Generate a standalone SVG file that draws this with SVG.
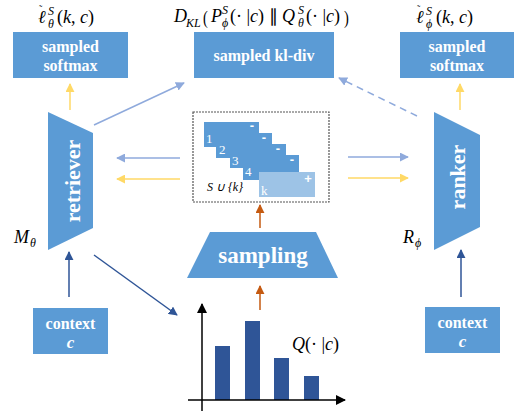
<svg xmlns="http://www.w3.org/2000/svg" width="518" height="415" viewBox="0 0 518 415">
<defs>
<style>
.box{fill:#5B9BD5}
.bt{font-weight:bold;fill:#fff;text-anchor:middle}
.m{font-size:18px;fill:#000}
.i{font-style:italic}
.s{font-size:12px;font-style:italic;fill:#000}
.num{font-size:13px;fill:#fff}
.pm{font-size:13px;font-weight:bold;fill:#fff;text-anchor:middle}
.lb{stroke:#8FAADC;stroke-width:1.5;fill:none}
.yl{stroke:#FFD966;stroke-width:1.5;fill:none}
.db{stroke:#2F5597;stroke-width:1.5;fill:none}
.or{stroke:#C55A11;stroke-width:1.5;fill:none}
</style>
<marker id="aLb" viewBox="0 0 10 10" refX="9" refY="5" markerWidth="9" markerHeight="9" markerUnits="userSpaceOnUse" orient="auto"><path d="M0,0L10,5L0,10z" fill="#8FAADC"/></marker>
<marker id="aYl" viewBox="0 0 10 10" refX="9" refY="5" markerWidth="9" markerHeight="9" markerUnits="userSpaceOnUse" orient="auto"><path d="M0,0L10,5L0,10z" fill="#FFD966"/></marker>
<marker id="aDb" viewBox="0 0 10 10" refX="9" refY="5" markerWidth="9" markerHeight="9" markerUnits="userSpaceOnUse" orient="auto"><path d="M0,0L10,5L0,10z" fill="#2F5597"/></marker>
<marker id="aOr" viewBox="0 0 10 10" refX="9" refY="5" markerWidth="9" markerHeight="9" markerUnits="userSpaceOnUse" orient="auto"><path d="M0,0L10,5L0,10z" fill="#C55A11"/></marker>
<marker id="aK" viewBox="0 0 10 10" refX="9" refY="5" markerWidth="10" markerHeight="10" markerUnits="userSpaceOnUse" orient="auto"><path d="M0,0L10,5L0,10z" fill="#000"/></marker>
</defs>
<rect width="518" height="415" fill="#fff"/>

<g id="connectors">
<line class="yl" x1="70" y1="110" x2="70" y2="84" marker-end="url(#aYl)"/>
<line class="yl" x1="460" y1="110" x2="460" y2="84" marker-end="url(#aYl)"/>
<line class="lb" x1="94" y1="125" x2="184" y2="83" marker-end="url(#aLb)"/>
<line class="lb" x1="417" y1="116" x2="339" y2="78" stroke-dasharray="7,5" marker-end="url(#aLb)"/>
<line class="lb" x1="180" y1="158" x2="117" y2="158" marker-end="url(#aLb)"/>
<line class="yl" x1="180" y1="179" x2="117" y2="179" marker-end="url(#aYl)"/>
<line class="lb" x1="348" y1="157" x2="408" y2="157" marker-end="url(#aLb)"/>
<line class="yl" x1="348" y1="178" x2="408" y2="178" marker-end="url(#aYl)"/>
<line class="db" x1="69" y1="297" x2="69" y2="252" marker-end="url(#aDb)"/>
<line class="db" x1="461" y1="297" x2="461" y2="250" marker-end="url(#aDb)"/>
<line class="db" x1="94" y1="255" x2="177" y2="315" marker-end="url(#aDb)"/>
<line class="or" x1="260" y1="228" x2="260" y2="205" marker-end="url(#aOr)"/>
<line class="or" x1="260" y1="310" x2="260" y2="286" marker-end="url(#aOr)"/>
</g>

<g font-family="Liberation Serif, Times New Roman, serif">
<g id="label-left">
<text class="m" x="38" y="23"><tspan class="i">ℓ</tspan><tspan x="39" y="13" font-size="10">˜</tspan><tspan x="48" y="15" font-size="12" font-style="italic">S</tspan><tspan x="48" y="28" font-size="12" font-style="italic">θ</tspan><tspan x="57" y="23">(<tspan class="i">k</tspan>, <tspan class="i">c</tspan>)</tspan></text>
</g>
<g id="label-center">
<text class="m i" x="174" y="22">D</text>
<text class="s" x="186" y="27">KL</text>
<text class="m" x="203" y="24" font-size="26" transform="translate(203 0) scale(0.8 1) translate(-203 0)">(</text>
<text class="m i" x="211" y="22">P</text>
<text class="s" x="222" y="14">S</text>
<text class="s" x="222" y="27">ϕ</text>
<text class="m" x="230" y="22">(· |<tspan class="i">c</tspan>) ∥ <tspan class="i">Q</tspan></text>
<text class="s" x="298" y="14">S</text>
<text class="s" x="298" y="27">θ</text>
<text class="m" x="306" y="22">(· |<tspan class="i">c</tspan>)</text>
<text class="m" x="344" y="24" font-size="26" transform="translate(344 0) scale(0.8 1) translate(-344 0)">)</text>
</g>
<g id="label-right">
<text class="m" x="416" y="23"><tspan class="i">ℓ</tspan><tspan x="417" y="13" font-size="10">˜</tspan><tspan x="426" y="15" font-size="12" font-style="italic">S</tspan><tspan x="426" y="28" font-size="12" font-style="italic">ϕ</tspan><tspan x="436" y="23">(<tspan class="i">k</tspan>, <tspan class="i">c</tspan>)</tspan></text>
</g>

<g id="softmax-left">
<rect class="box" x="13" y="32" width="115" height="46"/>
<text class="bt" x="70.5" y="52" font-size="16">sampled</text>
<text class="bt" x="70.5" y="71" font-size="16">softmax</text>
</g>
<g id="kl-div">
<rect class="box" x="194" y="32" width="140" height="46"/>
<text class="bt" x="264" y="61" font-size="16">sampled kl-div</text>
</g>
<g id="softmax-right">
<rect class="box" x="400" y="32" width="114" height="46"/>
<text class="bt" x="457" y="52" font-size="16">sampled</text>
<text class="bt" x="457" y="71" font-size="16">softmax</text>
</g>

<g id="retriever">
<polygon class="box" points="48,112 93,133 93,228 48,250"/>
<text class="bt" font-size="22" transform="translate(80 181) rotate(-90)" x="0" y="0">retriever</text>
<text class="m i" x="14" y="243">M</text>
<text class="s" x="30" y="247">θ</text>
</g>
<g id="ranker">
<polygon class="box" points="434,112 480,135 480,227 434,250"/>
<text class="bt" font-size="22" transform="translate(465 177) rotate(-90)" x="0" y="0">ranker</text>
<text class="m i" x="403" y="243">R</text>
<text class="s" x="415" y="247">ϕ</text>
</g>

<g id="samples">
<rect x="193" y="112" width="136" height="90" fill="#fff" stroke="#555" stroke-width="1.2" stroke-dasharray="2,1"/>
<rect class="box" x="204" y="122" width="55" height="25"/>
<rect class="box" x="216" y="133" width="56" height="25"/>
<rect class="box" x="230" y="144" width="56" height="24"/>
<rect class="box" x="243" y="155" width="56" height="25"/>
<rect x="259" y="172" width="56" height="25" fill="#9DC3E6"/>
<text class="num" x="206" y="143">1</text>
<text class="num" x="219" y="154">2</text>
<text class="num" x="232" y="165">3</text>
<text class="num" x="245" y="176">4</text>
<text class="num" x="261" y="195">k</text>
<text class="pm" x="252" y="130" font-family="Liberation Sans, Arial, sans-serif">-</text>
<text class="pm" x="264" y="142" font-family="Liberation Sans, Arial, sans-serif">-</text>
<text class="pm" x="278" y="153" font-family="Liberation Sans, Arial, sans-serif">-</text>
<text class="pm" x="292" y="164" font-family="Liberation Sans, Arial, sans-serif">-</text>
<text class="pm" x="308" y="183" font-family="Liberation Sans, Arial, sans-serif">+</text>
<text class="s" x="207" y="191" font-size="10">S ∪ {k}</text>
</g>

<g id="sampling">
<polygon class="box" points="210,232 316,232 338,278 187,278"/>
<text class="bt" x="263" y="263" font-size="23">sampling</text>
</g>

<g id="distribution">
<rect x="215" y="346" width="15" height="54" fill="#2F5597"/>
<rect x="245" y="321" width="15" height="79" fill="#2F5597"/>
<rect x="274" y="358" width="15" height="42" fill="#2F5597"/>
<rect x="304" y="376" width="15" height="24" fill="#2F5597"/>
<line x1="202" y1="411" x2="202" y2="304" stroke="#000" stroke-width="1.5" marker-end="url(#aK)"/>
<line x1="188" y1="400" x2="345" y2="400" stroke="#000" stroke-width="1.5" marker-end="url(#aK)"/>
<text class="m" x="292" y="350"><tspan class="i">Q</tspan>(· |<tspan class="i">c</tspan>)</text>
</g>

<g id="context-left">
<rect class="box" x="33" y="308" width="75" height="46"/>
<text class="bt" x="70.5" y="329" font-size="16">context</text>
<text class="bt" x="70.5" y="348" font-size="17" font-style="italic">c</text>
</g>
<g id="context-right">
<rect class="box" x="425" y="307" width="75" height="46"/>
<text class="bt" x="462.5" y="328" font-size="16">context</text>
<text class="bt" x="462.5" y="347" font-size="17" font-style="italic">c</text>
</g>
</g>
</svg>
